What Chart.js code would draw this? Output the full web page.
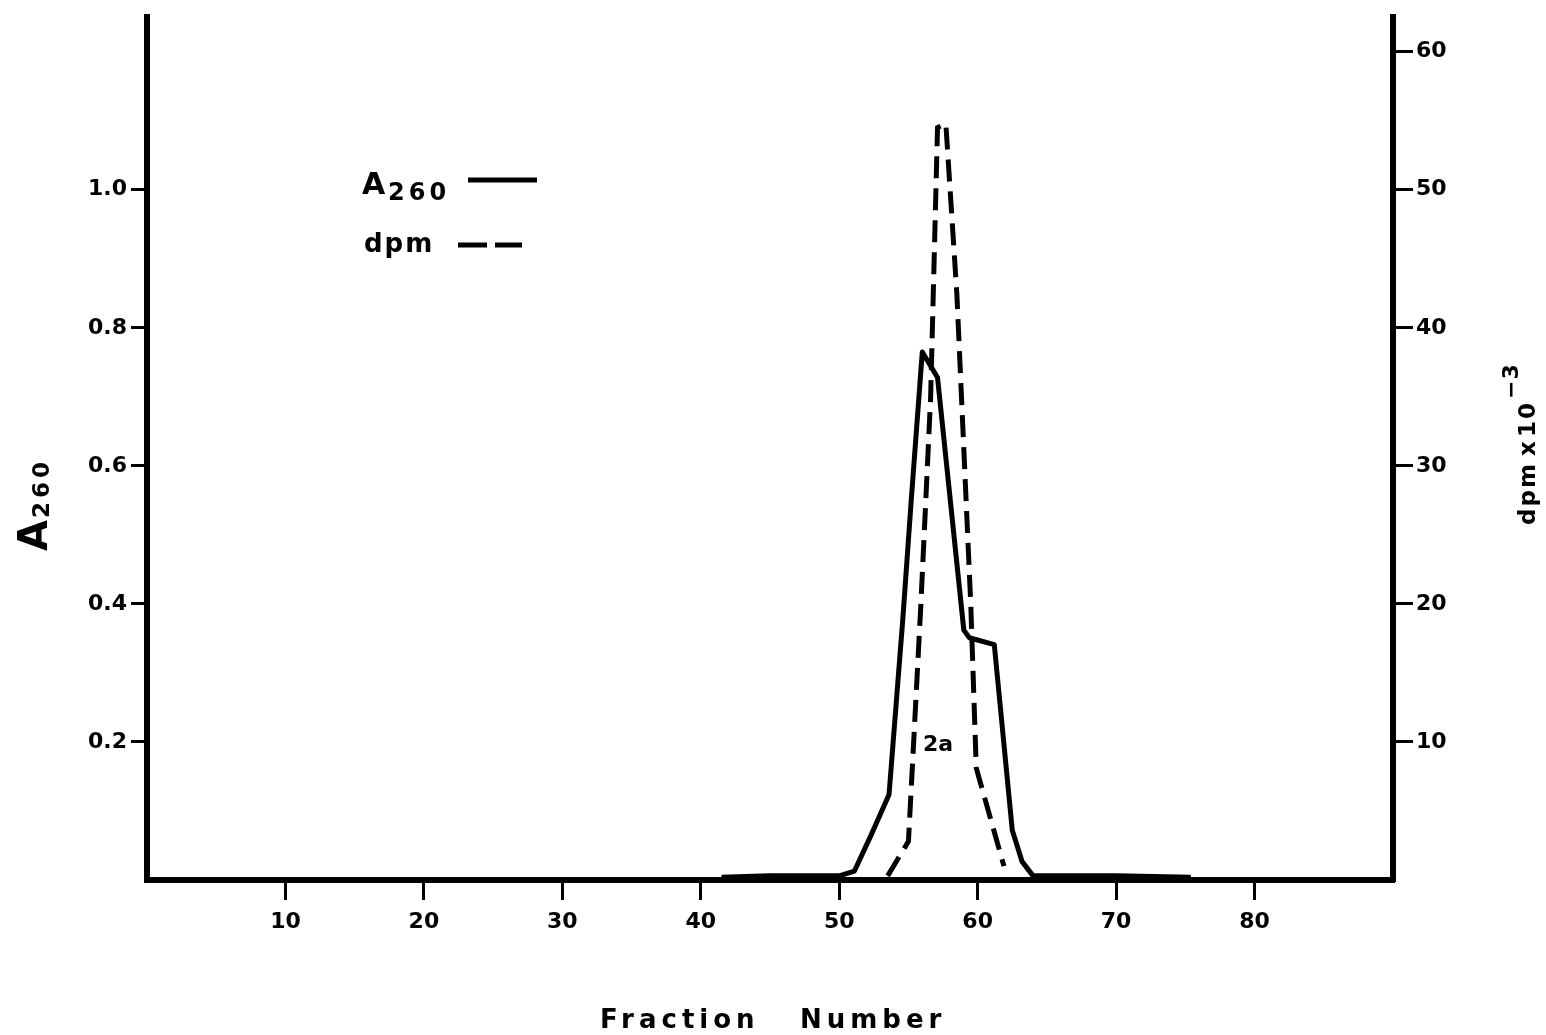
<!DOCTYPE html>
<html><head><meta charset="utf-8"><title>A260 / dpm profile</title>
<script src="https://cdn.jsdelivr.net/npm/chart.js@4"></script>
<style>html,body{margin:0;padding:0;background:#fff;} #wrap{width:1546px;height:1035px;}</style>
</head><body><div id="wrap"><canvas id="chart" width="1546" height="1035"></canvas></div>
<script>
// tick labels
var xTicks = [10, 20, 30, 40, 50, 60, 70, 80];
var aTicks = [0.2, 0.4, 0.6, 0.8, 1.0];
var dpmTicks = [10, 20, 30, 40, 50, 60];

// A260 (solid)
var a260Fraction = [41.5, 45, 50, 51.1, 52.3, 53.6, 54.6, 55.2, 56.0, 57.1, 59.0, 59.4, 61.2, 62.5, 63.2, 64, 70, 75.4];
var a260Values   = [0.004, 0.006, 0.006, 0.013, 0.065, 0.124, 0.38, 0.55, 0.765, 0.728, 0.362, 0.351, 0.341, 0.072, 0.027, 0.006, 0.006, 0.004];

// dpm x 10^-3 (dashed)
var dpmFraction = [53.5, 55.0, 55.9, 56.6, 57.1, 57.7, 58.5, 59.5, 59.9, 61.9];
var dpmValues   = [0.3, 2.8, 20, 34.9, 54.5, 54.8, 42.4, 20, 8.1, 1.0];

var FONT = '"DejaVu Sans", sans-serif';

function pairs(xs, ys) { return xs.map(function(x, i) { return {x: x, y: ys[i]}; }); }

var labelsPlugin = {
    id: 'labels',
    afterDraw: function(chart) {
        var ctx = chart.ctx;
        ctx.save();
        ctx.fillStyle = '#000'; ctx.strokeStyle = '#000';
        ctx.textBaseline = 'alphabetic'; ctx.textAlign = 'left';

        // legend
        ctx.font = 'bold 30px ' + FONT; ctx.fillText('A', 362, 194);
        ctx.font = 'bold 24px ' + FONT; ctx.letterSpacing = '4px'; ctx.fillText('260', 388, 200); ctx.letterSpacing = '0px';
        ctx.lineWidth = 5; ctx.setLineDash([]);
        ctx.beginPath(); ctx.moveTo(468, 180); ctx.lineTo(537, 180); ctx.stroke();
        ctx.font = 'bold 26px ' + FONT; ctx.letterSpacing = '2px'; ctx.fillText('dpm', 364, 252); ctx.letterSpacing = '0px';
        ctx.beginPath(); ctx.moveTo(458, 245); ctx.lineTo(487, 245); ctx.moveTo(495, 245); ctx.lineTo(522, 245); ctx.stroke();

        // peak label
        ctx.font = 'bold 22px ' + FONT; ctx.fillText('2a', 923, 751);

        // x title
        ctx.font = 'bold 26px ' + FONT; ctx.letterSpacing = '5px';
        ctx.fillText('Fraction', 600, 1028); ctx.fillText('Number', 800, 1028);
        ctx.letterSpacing = '0px';

        // left title A260 (rotated)
        ctx.save(); ctx.translate(47, 551); ctx.rotate(-Math.PI / 2);
        ctx.font = 'bold 40px ' + FONT; ctx.fillText('A', 0, 0);
        ctx.font = 'bold 23px ' + FONT; ctx.letterSpacing = '4px'; ctx.fillText('260', 33, 2);
        ctx.restore();

        // right title dpm x 10^-3 (rotated)
        ctx.save(); ctx.translate(1535, 525); ctx.rotate(-Math.PI / 2);
        ctx.font = 'bold 23px ' + FONT; ctx.letterSpacing = '2px';
        ctx.fillText('dpm', 0, 0); ctx.fillText('x', 69, 0); ctx.fillText('10', 88, 0);
        ctx.letterSpacing = '1px'; ctx.font = 'bold 22px ' + FONT; ctx.fillText('\u22123', 126, -17);
        ctx.restore();
        ctx.restore();
    }
};

var tickFont = { family: FONT, size: 22, weight: 'bold' };
function gridOpts(len) { return { drawOnChartArea: false, drawTicks: true, tickLength: len, lineWidth: 3, color: '#000' }; }

new Chart(document.getElementById('chart'), {
    type: 'line',
    data: {
        datasets: [
            { label: 'A260', data: pairs(a260Fraction, a260Values), yAxisID: 'y', borderColor: '#000', borderWidth: 5, pointRadius: 0, tension: 0, fill: false, borderJoinStyle: 'round' },
            { label: 'dpm', data: pairs(dpmFraction, dpmValues), yAxisID: 'y2', borderColor: '#000', borderWidth: 5, borderDash: [22, 10], pointRadius: 0, tension: 0, fill: false }
        ]
    },
    options: {
        responsive: false, animation: false, devicePixelRatio: 1,
        layout: { padding: { top: 15 } },
        plugins: { legend: { display: false }, tooltip: { enabled: false } },
        scales: {
            x: {
                type: 'linear', position: 'bottom', min: 0, max: 90,
                afterBuildTicks: function(s) { s.ticks = xTicks.map(function(v) { return {value: v}; }); },
                afterFit: function(s) { s.height = 155; },
                grid: gridOpts(20), border: { display: true, width: 6, color: '#000' },
                ticks: { font: tickFont, color: '#000', padding: 9, maxRotation: 0, autoSkip: false }
            },
            y: {
                type: 'linear', position: 'left', min: 0, max: 1.25,
                afterBuildTicks: function(s) { s.ticks = aTicks.map(function(v) { return {value: v}; }); },
                afterFit: function(s) { s.width = 147; },
                grid: gridOpts(16), border: { display: true, width: 6, color: '#000' },
                ticks: { font: tickFont, color: '#000', padding: 4, callback: function(v) { return v.toFixed(1); } }
            },
            y2: {
                type: 'linear', position: 'right', min: 0, max: 62.5,
                afterBuildTicks: function(s) { s.ticks = dpmTicks.map(function(v) { return {value: v}; }); },
                afterFit: function(s) { s.width = 153; },
                grid: gridOpts(20), border: { display: true, width: 6, color: '#000' },
                ticks: { font: tickFont, color: '#000', padding: 3 }
            }
        }
    },
    plugins: [labelsPlugin]
});
</script></body></html>
